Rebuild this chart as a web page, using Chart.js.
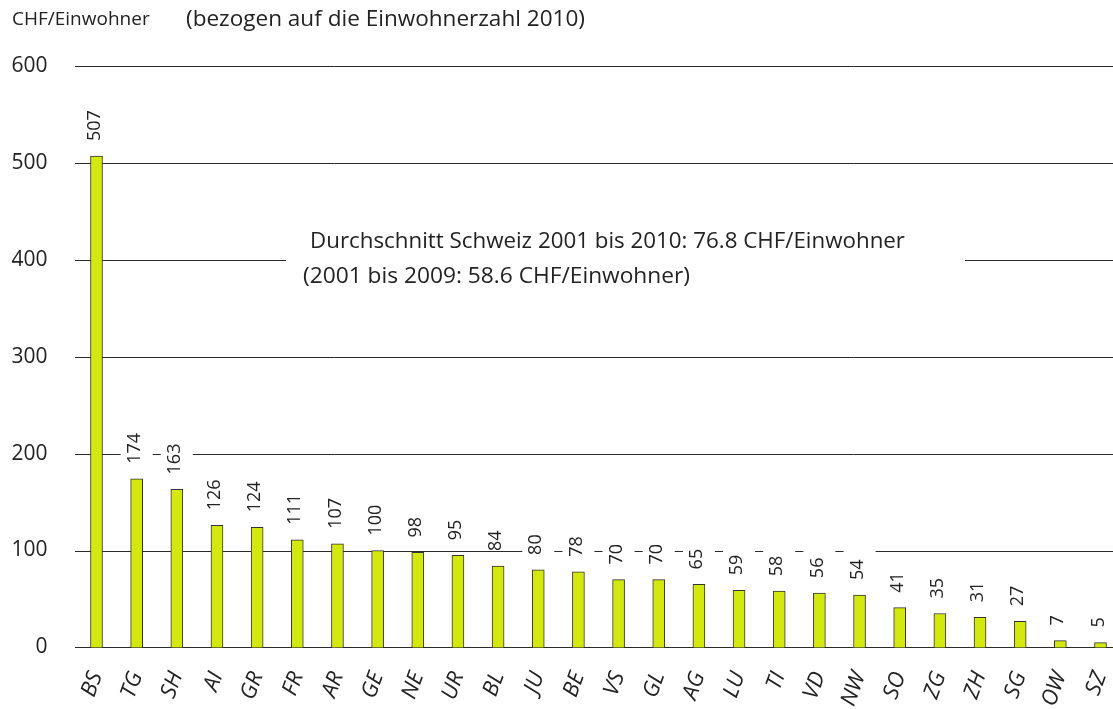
<!DOCTYPE html>
<html>
<head>
<meta charset="utf-8">
<script src="https://cdn.jsdelivr.net/npm/chart.js@4.4.1/dist/chart.umd.min.js"></script>
<style>
  html, body { margin: 0; padding: 0; background: #fff; }
  #wrap { width: 1113px; height: 709px; position: relative; }
</style>
</head>
<body>
<div id="wrap"><canvas id="chart"></canvas></div>
<script>
'use strict';

// ── Data ─────────────────────────────────────────────────────────────────────
var cantons = ['BS', 'TG', 'SH', 'AI', 'GR', 'FR', 'AR', 'GE', 'NE', 'UR', 'BL', 'JU', 'BE',
               'VS', 'GL', 'AG', 'LU', 'TI', 'VD', 'NW', 'SO', 'ZG', 'ZH', 'SG', 'OW', 'SZ'];
var chfPerHead = [507, 174, 163, 126, 124, 111, 107, 100, 98, 95, 84, 80, 78,
                  70, 70, 65, 59, 58, 56, 54, 41, 35, 31, 27, 7, 5];
var yTicks = [0, 100, 200, 300, 400, 500, 600];

var unitLabel  = 'CHF/Einwohner';
var unitNote   = '(bezogen auf die Einwohnerzahl 2010)';
var avgLines   = ['Durchschnitt Schweiz 2001 bis 2010: 76.8 CHF/Einwohner',
                  '(2001 bis 2009: 58.6 CHF/Einwohner)'];

var FONT = '"Open Sans", "Noto Sans", sans-serif';
var INK  = '#222';

// draw text squeezed/stretched to a given width (the source face differs a bit)
function fitText(ctx, txt, x, y, width) {
  var w = ctx.measureText(txt).width;
  ctx.save();
  ctx.translate(x, y);
  ctx.scale(width / w, 1);
  ctx.fillText(txt, 0, 0);
  ctx.restore();
}

// ── Grid lines (drawn across the full width, left of the plot too) ──────────
var gridPlugin = {
  id: 'fullGrid',
  beforeDatasetsDraw: function (chart) {
    var ctx = chart.ctx, y = chart.scales.y;
    ctx.save();
    ctx.strokeStyle = '#2a2a2a';
    ctx.lineWidth = 1;
    yTicks.forEach(function (v) {
      var py = Math.round(y.getPixelForValue(v)) + 0.5;
      ctx.beginPath();
      ctx.moveTo(75, py);
      ctx.lineTo(chart.width, py);
      ctx.stroke();
    });
    ctx.restore();
  }
};

// ── Value labels with white knock-out boxes, heading and average note ───────
var labelPlugin = {
  id: 'valueLabels',
  afterDatasetsDraw: function (chart) {
    var ctx = chart.ctx;
    var meta = chart.getDatasetMeta(0);
    ctx.save();
    ctx.font = '18px ' + FONT;
    meta.data.forEach(function (bar, i) {
      var txt = String(chfPerHead[i]);
      var w = ctx.measureText(txt).width;
      var base = bar.y - 15;
      ctx.fillStyle = '#fff';
      ctx.fillRect(bar.x - 16, base - w - 10, 32, w + 10);
      ctx.save();
      ctx.translate(bar.x - 2, base);
      ctx.rotate(-Math.PI / 2);
      ctx.fillStyle = INK;
      ctx.textAlign = 'left';
      ctx.textBaseline = 'middle';
      ctx.fillText(txt, 0, 0);
      ctx.restore();
    });

    // average note over the 400 line
    var y400 = chart.scales.y.getPixelForValue(400);
    ctx.fillStyle = '#fff';
    ctx.fillRect(286, y400 - 36, 679, 72);
    ctx.fillStyle = INK;
    ctx.font = '22px ' + FONT;
    ctx.textBaseline = 'middle';
    ctx.textAlign = 'left';
    fitText(ctx, avgLines[0], 310, y400 - 18, 595);
    fitText(ctx, avgLines[1], 303, y400 + 17, 387);

    // heading
    ctx.font = '19px ' + FONT;
    ctx.fillText(unitLabel, 12, 20);
    ctx.font = '21px ' + FONT;
    fitText(ctx, unitNote, 186, 20, 399);
    ctx.restore();
  }
};

// ── Chart ────────────────────────────────────────────────────────────────────
var chart = new Chart(document.getElementById('chart').getContext('2d'), {
  type: 'bar',
  data: {
    labels: cantons,
    datasets: [{
      data           : chfPerHead,
      backgroundColor: 'rgb(211,232,14)',
      borderColor    : '#333',
      borderWidth    : 1,
      barThickness   : 12,
      clip           : false
    }]
  },
  options: {
    responsive         : true,
    maintainAspectRatio: false,
    animation          : false,
    layout: { padding: { top: 66, right: 12.5, bottom: 0, left: 0 } },
    plugins: {
      legend : { display: false },
      tooltip: { enabled: false }
    },
    scales: {
      x: {
        offset: false,
        grid  : { display: false, drawTicks: false },
        border: { display: false },
        ticks : {
          autoSkip   : false,
          minRotation: 70,
          maxRotation: 70,
          padding    : 21,
          color      : INK,
          font       : { family: FONT, size: 22, style: 'italic' }
        },
        afterFit: function (scale) {
          scale.height = 60;
          scale.paddingLeft = 0;
          scale.paddingRight = 0;
        }
      },
      y: {
        min   : 0,
        max   : 600,
        grid  : { display: false, drawTicks: false },
        border: { display: false },
        ticks : {
          stepSize: 100,
          padding : 49,
          color   : INK,
          font    : { family: FONT, size: 21 }
        },
        afterFit: function (scale) { scale.width = 96.5; }
      }
    }
  },
  plugins: [gridPlugin, labelPlugin]
});
</script>
</body>
</html>
